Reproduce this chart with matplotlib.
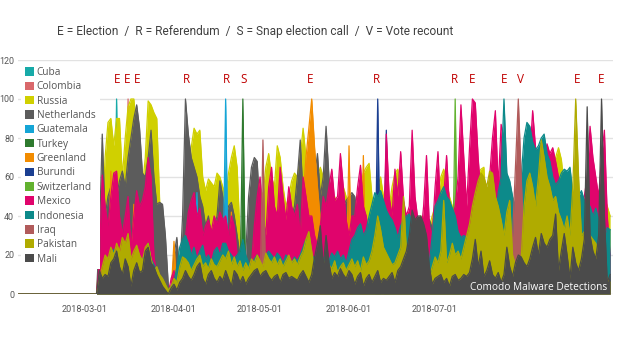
import matplotlib
matplotlib.use("Agg")
import matplotlib.pyplot as plt
import matplotlib.dates as mdates
from matplotlib.patches import Patch
import numpy as np
import pandas as pd

# all x values are day offsets from 2018-03-01
base = pd.Timestamp("2018-03-01")
lead_day = -23          # every series sits at zero from early February
last_day = 183
daily_days = np.arange(4, 184)

countries = ['Cuba', 'Colombia', 'Russia', 'Netherlands', 'Guatemala',
             'Turkey', 'Greenland', 'Burundi', 'Switzerland', 'Mexico',
             'Indonesia', 'Iraq', 'Pakistan', 'Mali']
colors = ['#17aaa8', '#d9686b', '#d0d000', '#5c5c5c', '#15a5d6',
          '#2e7a2e', '#f28c00', '#1b3f91', '#62b22f', '#e0046c',
          '#0d8a8a', '#b15b5b', '#b0ab00', '#4b4b4b']

# countries that only show short spikes: (day, value) vertices
cuba_days = [10, 11, 12]
cuba_vals = [0, 100, 0]
colombia_days = [14, 15, 16]
colombia_vals = [0, 100, 0]
guatemala_days = [38, 39, 40, 48, 49, 50]
guatemala_vals = [0, 52, 0, 0, 100, 0]
turkey_days = [54, 55, 56]
turkey_vals = [0, 100, 0]
greenland_days = [8, 9, 10, 16, 17, 18, 30, 31, 32, 50, 51, 52,
                  75, 76, 77, 78, 79, 80, 81, 82, 83, 84,
                  91, 92, 93, 96, 97, 98]
greenland_vals = [0, 63, 0, 0, 46, 0, 0, 27, 0, 0, 42, 0,
                  0, 50, 70, 85, 100, 75, 55, 38, 10, 0,
                  0, 76, 0, 0, 71, 0]
burundi_days = [101, 102, 103, 104, 105, 106]
burundi_vals = [0, 100, 0, 0, 84, 0]
switzerland_days = [8, 9, 10, 16, 17, 18, 58, 59, 60, 128, 129, 130]
switzerland_vals = [0, 35, 0, 0, 30, 0, 0, 29, 0, 0, 100, 0]
iraq_days = [32, 33, 34, 61, 62, 63, 148, 149, 150, 151, 152, 153, 154]
iraq_vals = [0, 10, 0, 0, 79, 0, 0, 30, 65, 100, 60, 25, 0]

# daily values, 2018-03-05 .. 2018-08-31
russia_vals = [
    0, 20, 40, 70, 88, 90, 76, 90, 90, 60,
    80, 96, 100, 100, 85, 75, 55, 70, 99, 97,
    93, 90, 48, 20, 5, 0, 0, 0, 2, 10,
    20, 30, 55, 75, 85, 82, 84, 60, 53, 59,
    57, 55, 62, 60, 55, 50, 62, 70, 76, 65,
    30, 20, 15, 10, 30, 50, 60, 55, 50, 65,
    72, 60, 55, 76, 70, 55, 45, 50, 58, 62,
    60, 70, 85, 70, 60, 50, 55, 60, 65, 60,
    50, 55, 40, 50, 45, 50, 55, 50, 45, 50,
    40, 50, 55, 62, 65, 67, 50, 45, 55, 60,
    50, 40, 45, 55, 62, 64, 55, 45, 40, 35,
    40, 30, 35, 40, 35, 30, 35, 40, 45, 50,
    60, 64, 58, 50, 45, 40, 45, 40, 45, 40,
    50, 55, 58, 62, 64, 65, 40, 30, 25, 30,
    35, 30, 28, 30, 32, 30, 28, 30, 35, 38,
    40, 42, 45, 48, 45, 40, 40, 50, 60, 66,
    70, 75, 69, 55, 40, 30, 35, 38, 40, 42,
    40, 42, 45, 48, 50, 45, 52, 50, 45, 40]
netherlands_vals = [
    0, 30, 82, 40, 50, 55, 45, 50, 58, 63,
    55, 70, 80, 90, 97, 85, 62, 60, 70, 84,
    60, 46, 47, 46, 30, 5, 0, 20, 29, 10,
    40, 100, 82, 70, 65, 60, 50, 45, 35, 40,
    30, 35, 40, 58, 50, 40, 45, 47, 40, 30,
    20, 10, 20, 50, 65, 70, 68, 40, 30, 30,
    25, 30, 35, 30, 40, 35, 30, 35, 40, 45,
    60, 79, 50, 40, 35, 45, 60, 72, 50, 60,
    86, 60, 50, 40, 45, 40, 45, 48, 50, 52,
    50, 40, 30, 25, 28, 30, 26, 30, 28, 32,
    30, 35, 32, 30, 34, 35, 30, 32, 36, 38,
    36, 40, 38, 36, 34, 40, 38, 34, 30, 32,
    30, 28, 30, 26, 28, 30, 32, 28, 30, 26,
    30, 32, 34, 30, 35, 32, 30, 28, 30, 32,
    30, 28, 30, 32, 30, 28, 30, 32, 34, 30,
    32, 35, 30, 32, 34, 35, 33, 30, 32, 34,
    36, 35, 38, 40, 36, 38, 40, 42, 40, 45,
    40, 38, 36, 35, 30, 32, 30, 28, 25, 20]
mexico_vals = [
    0, 16, 61, 45, 35, 50, 62, 63, 40, 31,
    40, 50, 24, 40, 53, 45, 48, 55, 70, 60,
    20, 8, 6, 4, 2, 0, 8, 12, 5, 15,
    22, 29, 42, 48, 52, 40, 44, 30, 35, 38,
    32, 40, 36, 42, 38, 40, 30, 40, 35, 20,
    15, 10, 12, 8, 15, 35, 50, 60, 40, 30,
    55, 65, 45, 40, 65, 50, 38, 55, 45, 40,
    46, 30, 60, 50, 40, 40, 30, 25, 35, 50,
    45, 55, 64, 48, 50, 72, 55, 38, 30, 40,
    40, 55, 66, 45, 40, 30, 35, 25, 30, 35,
    32, 82, 50, 40, 64, 50, 73, 48, 40, 45,
    84, 50, 38, 30, 45, 71, 35, 30, 55, 73,
    40, 50, 71, 45, 40, 45, 60, 97, 70, 45,
    75, 100, 98, 70, 50, 40, 45, 60, 80, 94,
    55, 87, 80, 60, 50, 45, 40, 35, 40, 50,
    60, 70, 94, 75, 70, 65, 70, 77, 72, 75,
    68, 60, 55, 58, 50, 45, 40, 35, 40, 45,
    50, 60, 86, 70, 60, 50, 70, 84, 40, 20]
indonesia_vals = [
    0, 5, 10, 12, 14, 18, 23, 16, 12, 14,
    16, 12, 10, 14, 12, 16, 18, 20, 26, 18,
    15, 12, 8, 5, 3, 2, 4, 6, 14, 24,
    28, 30, 26, 20, 24, 18, 22, 25, 18, 20,
    16, 22, 24, 20, 26, 26, 22, 20, 18, 20,
    22, 28, 20, 16, 14, 18, 20, 17, 15, 20,
    22, 20, 18, 21, 19, 16, 20, 18, 16, 19,
    17, 20, 24, 28, 26, 20, 18, 20, 16, 18,
    20, 17, 21, 19, 22, 18, 20, 16, 22, 28,
    30, 34, 36, 30, 33, 40, 46, 52, 50, 53,
    48, 43, 40, 38, 34, 29, 35, 38, 40, 41,
    36, 33, 28, 26, 24, 20, 16, 30, 45, 48,
    52, 55, 50, 48, 44, 40, 32, 29, 30, 29,
    28, 26, 30, 32, 40, 45, 38, 42, 48, 40,
    52, 60, 100, 62, 58, 50, 45, 48, 60, 80,
    88, 86, 78, 74, 76, 80, 82, 72, 68, 60,
    56, 58, 62, 64, 63, 65, 52, 46, 50, 53,
    48, 42, 45, 40, 44, 38, 35, 30, 34, 33]
pakistan_vals = [
    0, 8, 14, 20, 18, 24, 20, 26, 22, 29,
    26, 31, 18, 22, 25, 20, 17, 24, 26, 18,
    12, 14, 10, 8, 5, 2, 4, 8, 6, 14,
    19, 18, 16, 12, 15, 18, 20, 14, 16, 13,
    18, 15, 14, 17, 20, 18, 22, 15, 19, 14,
    17, 12, 16, 13, 18, 16, 20, 17, 14, 21,
    18, 16, 19, 15, 18, 14, 17, 20, 16, 18,
    15, 19, 22, 28, 32, 22, 12, 16, 14, 18,
    12, 15, 13, 17, 11, 14, 16, 12, 15, 18,
    14, 17, 12, 19, 15, 17, 22, 30, 40, 33,
    24, 21, 18, 15, 16, 20, 24, 50, 22, 23,
    18, 20, 15, 17, 12, 10, 9, 14, 19, 16,
    22, 48, 16, 20, 26, 20, 22, 18, 24, 30,
    36, 45, 52, 58, 62, 60, 55, 63, 62, 50,
    45, 38, 30, 42, 48, 20, 15, 12, 18, 45,
    58, 62, 55, 45, 60, 79, 70, 60, 55, 48,
    50, 42, 38, 33, 40, 30, 55, 100, 60, 30,
    32, 25, 30, 28, 26, 20, 22, 12, 8, 6]
mali_vals = [
    0, 12, 8, 10, 9, 16, 18, 22, 14, 10,
    18, 14, 4, 12, 16, 11, 12, 22, 24, 16,
    14, 10, 7, 4, 2, 0, 3, 5, 2, 6,
    8, 12, 9, 7, 10, 14, 16, 8, 5, 10,
    12, 8, 6, 9, 7, 12, 8, 4, 12, 10,
    6, 9, 5, 8, 10, 12, 13, 9, 11, 12,
    9, 7, 9, 10, 6, 10, 11, 8, 9, 8,
    7, 10, 12, 9, 6, 10, 19, 26, 35, 14,
    30, 16, 8, 11, 9, 13, 10, 8, 12, 10,
    5, 9, 11, 4, 8, 10, 6, 9, 12, 6,
    8, 7, 9, 11, 6, 12, 14, 18, 22, 30,
    43, 38, 40, 40, 36, 30, 14, 5, 8, 9,
    10, 6, 8, 4, 9, 10, 7, 8, 10, 9,
    11, 18, 28, 14, 22, 9, 12, 17, 10, 8,
    11, 6, 10, 24, 14, 9, 16, 20, 19, 16,
    14, 18, 24, 29, 20, 31, 26, 24, 28, 30,
    41, 12, 22, 31, 20, 8, 24, 16, 12, 18,
    28, 96, 30, 22, 18, 30, 100, 40, 6, 10]

# event letters above the chart
event_days = [11.3, 14.5, 18.2, 35.3, 49.2, 55.3, 78.5, 101.6, 128.7,
              134.9, 146.2, 151.6, 171.4, 179.8]
event_letters = ['E', 'E', 'E', 'R', 'R', 'S', 'E', 'R', 'R',
                 'E', 'E', 'V', 'E', 'E']

month_ticks = ['2018-03-01', '2018-04-01', '2018-05-01', '2018-06-01',
               '2018-07-01']


def to_x(days):
    return mdates.date2num(base + pd.to_timedelta(np.asarray(days), unit='D'))


def spike_series(days, vals):
    return [lead_day] + list(days) + [last_day], [0] + list(vals) + [0]


def daily_series(vals):
    return [lead_day] + list(daily_days), [0] + list(vals)


series = [
    spike_series(cuba_days, cuba_vals),
    spike_series(colombia_days, colombia_vals),
    daily_series(russia_vals),
    daily_series(netherlands_vals),
    spike_series(guatemala_days, guatemala_vals),
    spike_series(turkey_days, turkey_vals),
    spike_series(greenland_days, greenland_vals),
    spike_series(burundi_days, burundi_vals),
    spike_series(switzerland_days, switzerland_vals),
    daily_series(mexico_vals),
    daily_series(indonesia_vals),
    spike_series(iraq_days, iraq_vals),
    daily_series(pakistan_vals),
    daily_series(mali_vals),
]

narrow = ['Roboto', 'DejaVu Sans']
sans = ['Open Sans', 'DejaVu Sans']

fig = plt.figure(figsize=(6.2, 3.44), dpi=100)
ax = fig.add_axes([17.6 / 620, 50 / 344, 595.4 / 620, 234 / 344])

# overlapping (not stacked) areas, later countries drawn on top
for i, ((days, vals), color) in enumerate(zip(series, colors)):
    x = to_x(days)
    ax.fill_between(x, vals, 0, color=color, lw=0, zorder=2 + 2 * i)
    ax.plot(x, vals, color=color, lw=0.9, zorder=3 + 2 * i)

ax.set_xlim(to_x([-23.5])[0], to_x([184])[0])
ax.set_ylim(0, 120)
ax.set_yticks([0, 20, 40, 60, 80, 100, 120])
ax.set_xticks(mdates.date2num(pd.to_datetime(month_ticks)))
ax.xaxis.set_major_formatter(mdates.DateFormatter('%Y-%m-%d'))
ax.tick_params(axis='both', length=0, colors='#555555')
ax.tick_params(axis='x', pad=8, labelsize=6.6)
ax.tick_params(axis='y', pad=2.5, labelsize=6.4)
for lab in ax.get_xticklabels() + ax.get_yticklabels():
    lab.set_family(narrow)
ax.grid(axis='y', color='#e2e2e2', lw=1)
ax.set_axisbelow(True)
for s in ax.spines.values():
    s.set_visible(False)

for d, letter in zip(event_days, event_letters):
    ax.text(to_x([d])[0], 110, letter, ha='center', va='center',
            color='#c00000', fontsize=8.5, family=sans, zorder=60)

ax.text(0.99, 0.028, 'Comodo Malware Detections', transform=ax.transAxes,
        ha='right', va='center', color='white', fontsize=7.3, family=sans,
        zorder=60, bbox=dict(facecolor=colors[-1], edgecolor='none', pad=1))

handles = [Patch(facecolor=c, edgecolor='none') for c in colors]
leg = ax.legend(handles, countries, loc='upper left',
                bbox_to_anchor=(21 / 620, 1 - 63 / 344),
                bbox_transform=fig.transFigure, borderaxespad=0,
                borderpad=0.4, frameon=True, facecolor='white',
                edgecolor='none', framealpha=1, fancybox=False,
                handlelength=0.9, handleheight=0.9, handletextpad=0.25,
                labelspacing=0.33, prop={'family': sans, 'size': 7.3})
leg.set_zorder(100)
for t in leg.get_texts():
    t.set_color('#555555')

fig.text(255 / 620, 1 - 31 / 344,
         'E = Election  /  R = Referendum  /  S = Snap election call  /  '
         'V = Vote recount',
         ha='center', va='center', color='#404040', fontsize=8.6,
         family=narrow)

fig.savefig('out.png', dpi=100)
